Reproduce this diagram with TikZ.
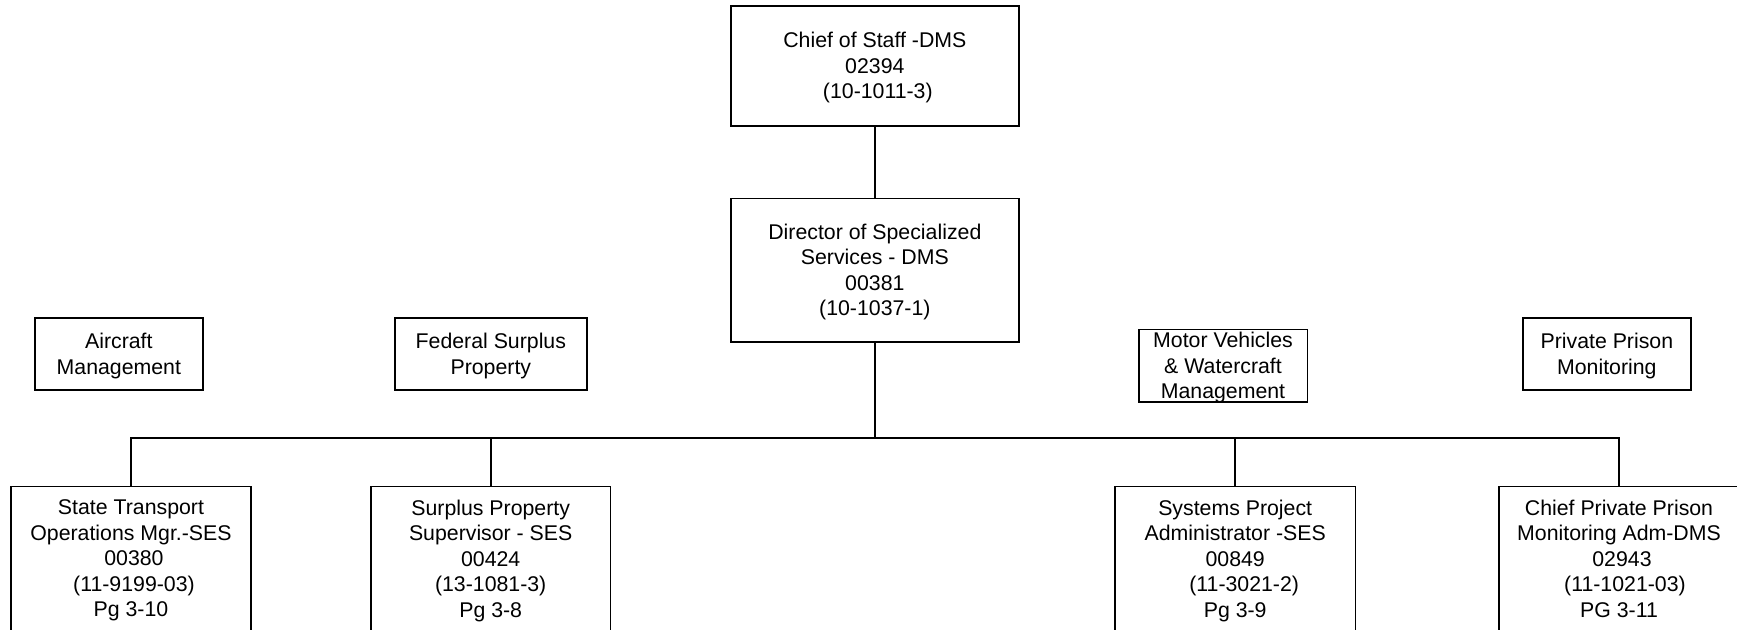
\documentclass[tikz,border=0pt]{standalone}
\usepackage{fontspec}
\setmainfont{Liberation Sans}
\begin{document}
\begin{tikzpicture}[x=1pt,y=-1pt,line width=1.6pt,
  every node/.style={font=\fontsize{21.3}{25.5}\selectfont, align=center, inner sep=0pt},
  orgbox/.style={draw, line width=1.6pt, text depth=-2pt},
  link/.style={draw, line width=1.6pt}]
\useasboundingbox (0,0) rectangle (1737,629);
\clip (0,0) rectangle (1737,629);

% top of the chain
\node[orgbox, minimum width=288.3pt, minimum height=120pt] (cos) at (874.85,65.7)
  {Chief of Staff -DMS\\02394\\\hspace*{0.28em}(10-1011-3)};
\node[orgbox, minimum width=288.3pt, minimum height=143.4pt] (dir) at (874.85,270)
  {Director of Specialized\\Services - DMS\\00381\\(10-1037-1)};

% program areas
\node[orgbox, minimum width=168.3pt, minimum height=72.3pt] (air) at (118.85,353.85)
  {Aircraft\\Management};
\node[orgbox, minimum width=192.3pt, minimum height=72.3pt] (fed) at (490.85,353.85)
  {Federal Surplus\\Property};
\node[orgbox, minimum width=168.6pt, minimum height=72.7pt] (mv) at (1223,365.65)
  {Motor Vehicles\\\& Watercraft\\Management};
\node[orgbox, minimum width=168.3pt, minimum height=72.3pt] (ppm) at (1606.85,353.85)
  {Private Prison\\Monitoring};

% subordinate positions (frames run past the lower edge)
\node[orgbox, anchor=north, minimum width=240pt, minimum height=180pt] (st) at (131,485.7) {};
\node (st-t) at (131,560.6)
  {State Transport\\Operations Mgr.-SES\\\hspace*{0.28em}00380\\\hspace*{0.28em}(11-9199-03)\\Pg 3-10};

\node[orgbox, anchor=north, minimum width=239.4pt, minimum height=180pt] (sp) at (490.7,485.7) {};
\node (sp-t) at (490.7,560.6)
  {Surplus Property\\Supervisor - SES\\00424\\(13-1081-3)\\Pg 3-8};

\node[orgbox, anchor=north, minimum width=240.3pt, minimum height=180pt] (sys) at (1235.2,485.7) {};
\node (sys-t) at (1235.2,560.6)
  {Systems Project\\Administrator -SES\\00849\\\hspace*{0.84em}(11-3021-2)\\Pg 3-9};

\node[orgbox, anchor=north, minimum width=240pt, minimum height=180pt] (cp) at (1619,485.7) {};
\node (cp-t) at (1619,558.4)
  {Chief Private Prison\\Monitoring Adm-DMS\\\hspace*{0.28em}02943\\\hspace*{0.56em}(11-1021-03)\\PG 3-11};

% connectors
\coordinate (bus) at (874.85,437.7);
\draw[link] (cos.south) -- (dir.north);
\draw[link] (dir.south) -- (bus);
\draw[link] (st.north) |- (bus) -| (cp.north);
\draw[link] (sp.north) -- (sp.north |- bus);
\draw[link] (sys.north) -- (sys.north |- bus);
\end{tikzpicture}
\end{document}
